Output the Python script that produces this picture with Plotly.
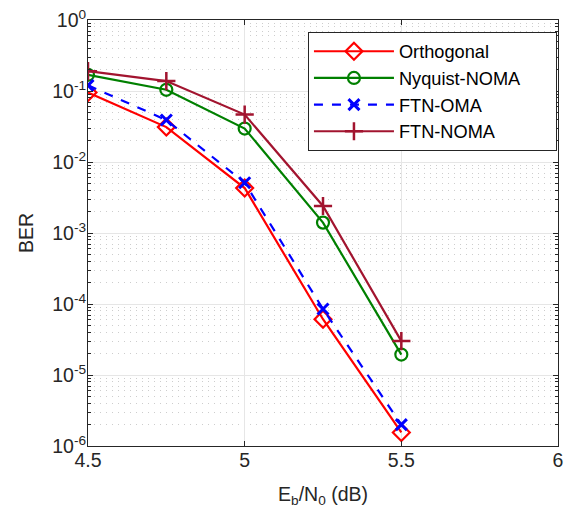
import plotly.graph_objects as go

ebn0 = [4.5, 4.75, 5.0, 5.25, 5.5]
ber_orthogonal = [0.095, 0.031, 0.0043, 6.1e-5, 1.55e-6]
ber_nyquist_noma = [0.169, 0.104, 0.0296, 0.0014, 1.94e-5]
ber_ftn_oma = [0.12, 0.039, 0.0051, 8.5e-5, 2.0e-6]
ber_ftn_noma = [0.19, 0.138, 0.0465, 0.0024, 3.0e-5]
series_names = ["Orthogonal", "Nyquist-NOMA", "FTN-OMA", "FTN-NOMA"]

y_tick_vals = [1e-6, 1e-5, 1e-4, 1e-3, 1e-2, 1e-1, 1]
y_tick_text = ["10<sup>-6</sup>", "10<sup>-5</sup>", "10<sup>-4</sup>", "10<sup>-3</sup>",
               "10<sup>-2</sup>", "10<sup>-1</sup>", "10<sup>0</sup>"]
x_tick_vals = [4.5, 5, 5.5, 6]
x_tick_text = ["4.5", "5", "5.5", "6"]

FONT = "Liberation Sans, Arial, sans-serif"
TXT = "#262626"
FS = 19.5
LFS = 18.2
PAD = "\u00a0" * 6

fig = go.Figure()
fig.add_trace(go.Scatter(x=ebn0, y=ber_orthogonal, name=series_names[0], mode="lines+markers",
                         line=dict(color="#FF0000", width=2.2),
                         marker=dict(symbol="diamond-open", size=13, color="#FF0000", line=dict(width=2.2))))
fig.add_trace(go.Scatter(x=ebn0, y=ber_nyquist_noma, name=series_names[1] + PAD, mode="lines+markers",
                         line=dict(color="#008000", width=2.2),
                         marker=dict(symbol="circle-open", size=12, color="#008000", line=dict(width=2.2))))
fig.add_trace(go.Scatter(x=ebn0, y=ber_ftn_oma, name=series_names[2], mode="lines+markers",
                         line=dict(color="#0000FF", width=2.2, dash="dash"),
                         marker=dict(symbol="x-thin-open", size=11, color="#0000FF", line=dict(width=3, color="#0000FF"))))
fig.add_trace(go.Scatter(x=ebn0, y=ber_ftn_noma, name=series_names[3], mode="lines+markers",
                         line=dict(color="#A2142F", width=2.2),
                         marker=dict(symbol="cross-thin-open", size=13, color="#A2142F", line=dict(width=2.5, color="#A2142F"))))

fig.update_layout(
    width=570, height=512,
    margin=dict(l=88, r=7, t=17, b=66),
    paper_bgcolor="white", plot_bgcolor="white",
    font=dict(family=FONT, size=FS, color=TXT),
    showlegend=True,
    legend=dict(x=0.468, y=0.972, xanchor="left", yanchor="top",
                bgcolor="white", bordercolor=TXT, borderwidth=1,
                font=dict(family=FONT, size=LFS, color="#000000"),
                tracegroupgap=0, itemwidth=80),
)
fig.update_xaxes(
    range=[4.5, 6], tickvals=x_tick_vals, ticktext=x_tick_text,
    showline=True, linecolor=TXT, linewidth=1, mirror="ticks",
    ticks="inside", ticklen=5, tickcolor=TXT, ticklabelstandoff=-3,
    showgrid=True, gridcolor="#E6E6E6", gridwidth=1, zeroline=False,
    title=dict(text="E<sub>b</sub>/N<sub>0</sub> (dB)", font=dict(size=FS, color=TXT), standoff=16),
)
fig.update_yaxes(
    type="log", range=[-6, 0], tickvals=y_tick_vals, ticktext=y_tick_text,
    showline=True, linecolor=TXT, linewidth=1, mirror="ticks",
    ticks="inside", ticklen=5, tickcolor=TXT, ticklabelstandoff=-3,
    showgrid=True, gridcolor="#E6E6E6", gridwidth=1, zeroline=False,
    minor=dict(ticks="inside", ticklen=3, tickcolor=TXT, showgrid=True,
               gridcolor="#CDCDCD", griddash="1px,5px", gridwidth=1,
               tickvals=[m * 10 ** e for e in range(-6, 0) for m in range(2, 10)]),
    title=dict(text="BER", font=dict(size=FS, color=TXT), standoff=13),
)

fig.write_html("out.html")
